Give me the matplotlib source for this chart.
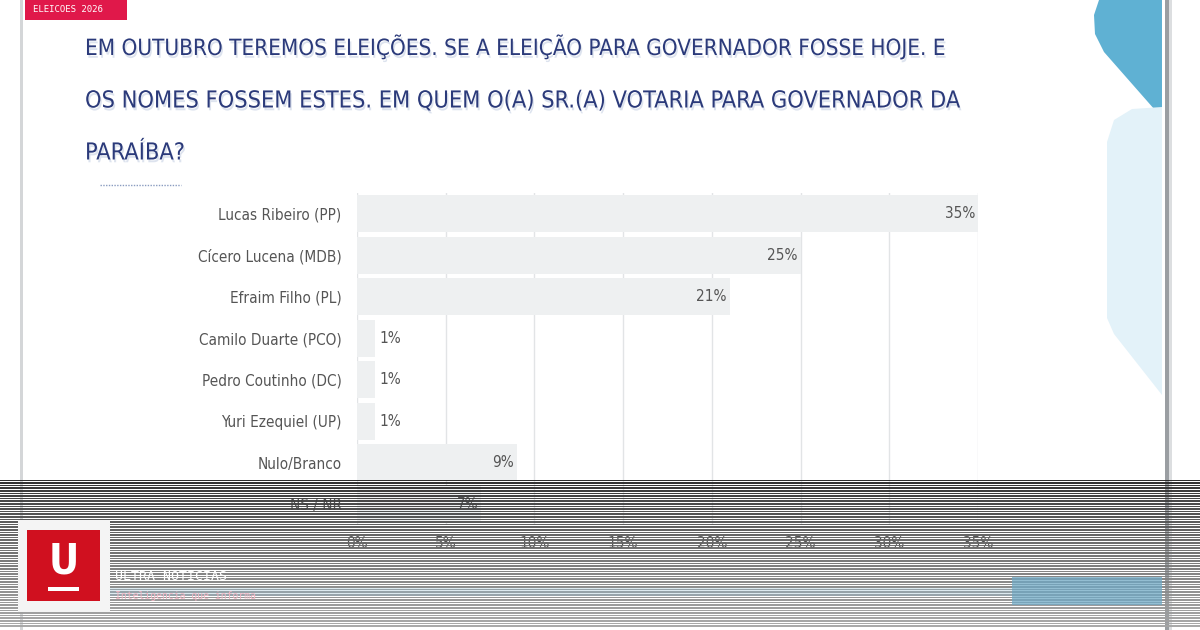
import matplotlib
matplotlib.use("Agg")
import matplotlib.pyplot as plt
import matplotlib.patheffects as pe
from matplotlib.patches import Rectangle, Polygon
import numpy as np

# data
candidates = ["Lucas Ribeiro (PP)", "Cícero Lucena (MDB)", "Efraim Filho (PL)",
              "Camilo Duarte (PCO)", "Pedro Coutinho (DC)", "Yuri Ezequiel (UP)",
              "Nulo/Branco", "NS / NR"]
votes = [35, 25, 21, 1, 1, 1, 9, 7]
xticks = [0, 5, 10, 15, 20, 25, 30, 35]
title_lines = ["EM OUTUBRO TEREMOS ELEIÇÕES. SE A ELEIÇÃO PARA GOVERNADOR FOSSE HOJE. E",
               "OS NOMES FOSSEM ESTES. EM QUEM O(A) SR.(A) VOTARIA PARA GOVERNADOR DA",
               "PARAÍBA?"]
tag_text = "ELEICOES 2026"
brand = "ULTRA NOTICIAS"
slogan = "Inteligencia que informa"

W, H = 1200, 630
fig = plt.figure(figsize=(12, 6.3), dpi=100)
fig.patch.set_facecolor("white")

# background / decoration axes in pixel coords
bg = fig.add_axes([0, 0, 1, 1], zorder=0)
bg.set_xlim(0, W)
bg.set_ylim(H, 0)
bg.axis("off")

# card edges
bg.add_patch(Rectangle((20, 0), 3, H, color="#d4d6d8", lw=0))
bg.add_patch(Rectangle((1165, 0), 4, H, color="#9a9ea2", lw=0))
bg.add_patch(Rectangle((1169, 0), 3, H, color="#dcdee0", lw=0))

# blue shapes on the right
bg.add_patch(Polygon([(1099, 0), (1162, 0), (1162, 118), (1104, 52), (1095, 34), (1094, 15)],
                     closed=True, color="#5fb1d3", lw=0))
bg.add_patch(Polygon([(1162, 107), (1132, 109), (1114, 120), (1107, 142), (1107, 318),
                      (1114, 334), (1162, 395)], closed=True, color="#e3f2f9", lw=0))

# red tag
bg.add_patch(Rectangle((25, 0), 102, 20, color="#e0184a", lw=0))
bg.text(33, 10, tag_text, color="white", fontsize=6.5, family="DejaVu Sans Mono",
        va="center", ha="left")

# title
cond = dict(family="DejaVu Sans", stretch="condensed")
title_y = [47, 101, 153]
title_w = [860, 877, None]
renderer = fig.canvas.get_renderer()
size = 22
for line, y, tw in zip(title_lines, title_y, title_w):
    t = bg.text(85, y, line, color="#2b3a7a", fontsize=size, va="center", ha="left",
                **cond,
                path_effects=[pe.withSimplePatchShadow(offset=(1, -2), shadow_rgbFace="#9fb0d0", alpha=0.35)])
    if tw is not None:
        w = t.get_window_extent(renderer).width
        size = size * tw / w
        t.set_fontsize(size)

bg.plot([100, 181], [185, 185], color="#8a9cc0", lw=1, ls=(0, (1, 1)))

# chart axes
left = 357 / W
right = 978 / W
top = 193 / H
bottom = 525 / H
ax = fig.add_axes([left, 1 - bottom, right - left, bottom - top], zorder=1)
ax.set_facecolor("none")

ypos = np.arange(len(candidates))
ax.barh(ypos, votes, height=0.9, color="#eef0f1", zorder=2)
ax.set_xlim(0, 35)
ax.set_ylim(len(candidates) - 0.5, -0.5)
ax.set_xticks(xticks)
ax.set_xticklabels([f"{v}%" for v in xticks])
ax.set_yticks(ypos)
ax.set_yticklabels(candidates)
ax.tick_params(axis="both", length=0, colors="#555555", labelsize=11)
ax.tick_params(axis="y", pad=11)
ax.tick_params(axis="x", pad=8)
for lab in ax.get_xticklabels() + ax.get_yticklabels():
    lab.set_family("DejaVu Sans")
    lab.set_stretch("condensed")
ax.grid(axis="x", color="#e2e4e6", lw=1, zorder=1)
for s in ax.spines.values():
    s.set_visible(False)

for y, v in zip(ypos, votes):
    if v >= 5:
        ax.annotate(f"{v}%", (v, y), xytext=(-3, 0), textcoords="offset pixels",
                    ha="right", va="center", color="#555555", fontsize=11, **cond, zorder=3)
    else:
        ax.annotate(f"{v}%", (v, y), xytext=(5, 0), textcoords="offset pixels",
                    ha="left", va="center", color="#555555", fontsize=11, **cond, zorder=3)

# overlay: scanlines + logo
ov = fig.add_axes([0, 0, 1, 1], zorder=5)
ov.set_xlim(0, W)
ov.set_ylim(H, 0)
ov.axis("off")
ov.patch.set_alpha(0)

starts = np.floor(480 + np.arange(0, 58) * 2.6)
for r0, r1 in zip(starts[:-1], starts[1:]):
    f = (r0 - 480) / 150
    g = 0.14 + 0.52 * f ** 0.8
    ov.add_patch(Rectangle((0, r0), W, r1 - r0 - 1, color=(g, g, g), alpha=0.95,
                           lw=0, antialiased=False))

ov.add_patch(Rectangle((110, 588), 902, 8, color="#9ec3d6", alpha=0.35, lw=0))
ov.add_patch(Rectangle((1012, 577), 150, 28, color="#6fa8c4", alpha=0.75, lw=0))

ov.add_patch(Rectangle((18, 520), 92, 92, color="#f4f4f4", lw=0, zorder=6))
ov.add_patch(Rectangle((27, 530), 73, 71, color="#d0101f", lw=0, zorder=7))
ov.text(63.5, 562, "U", color="white", fontsize=30, fontweight="bold", ha="center",
        va="center", family="DejaVu Sans", stretch="condensed", zorder=8)
ov.add_patch(Rectangle((48, 587), 31, 4, color="white", lw=0, zorder=8))

ov.text(115, 577, brand, color="white", fontsize=9.5, family="DejaVu Sans Mono",
        ha="left", va="center", zorder=6)
ov.text(115, 596, slogan, color="#f2b6c2", fontsize=7, family="DejaVu Sans Mono",
        ha="left", va="center", zorder=6)

fig.savefig("out.png", dpi=100)
